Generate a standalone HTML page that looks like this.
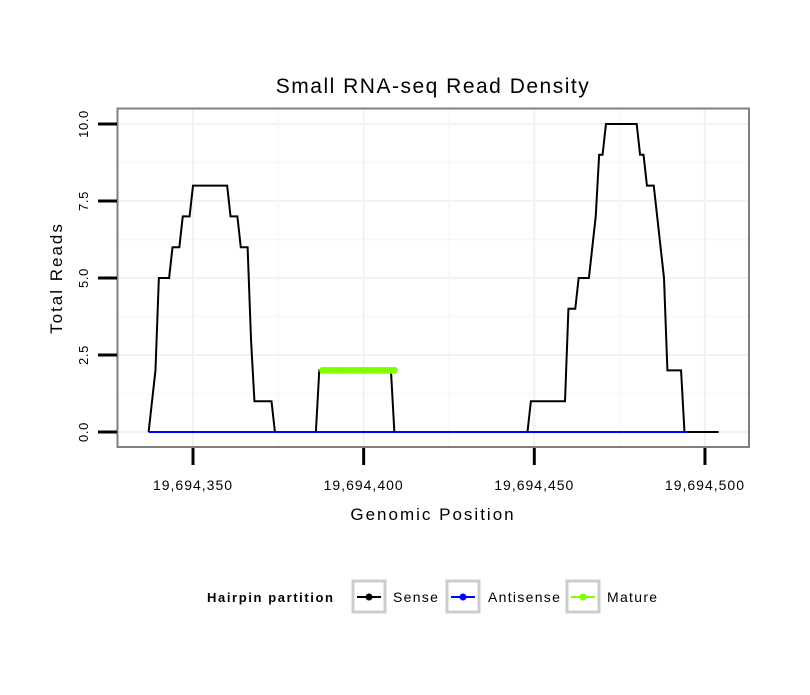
<!DOCTYPE html>
<html><head><meta charset="utf-8"><style>
body{margin:0;background:#fff;}
svg text{font-family:"Liberation Sans",Arial,sans-serif;}
</style></head><body>
<svg id="chart" width="810" height="690" xmlns="http://www.w3.org/2000/svg">
<rect width="810" height="690" fill="#fff"/>
<text x="433" y="93" font-size="21" letter-spacing="1.5" text-anchor="middle">Small RNA-seq Read Density</text>
<g id="grid"></g>
<g id="series"></g>
<rect x="117.5" y="108.5" width="631.5" height="338.5" fill="none" stroke="#7f7f7f" stroke-width="2"/>
<g id="axes"></g>
<text x="433" y="520" font-size="17" letter-spacing="2" text-anchor="middle">Genomic Position</text>
<text transform="translate(62,278) rotate(-90)" font-size="17" letter-spacing="2" text-anchor="middle">Total Reads</text>
<g>
<text x="207" y="602" font-size="13" letter-spacing="1.6" font-weight="bold">Hairpin partition</text>
<g>
<rect x="353" y="581" width="32" height="31" fill="#fff" stroke="#ccc" stroke-width="3"/>
<line x1="357" y1="597" x2="381" y2="597" stroke="#000" stroke-width="2"/><circle cx="369" cy="597" r="3.5" fill="#000"/>
<text x="393" y="602" font-size="14" letter-spacing="1.3">Sense</text></g>
<g>
<rect x="447" y="581" width="32" height="31" fill="#fff" stroke="#ccc" stroke-width="3"/>
<line x1="451" y1="597" x2="475" y2="597" stroke="#0000ff" stroke-width="2"/><circle cx="463" cy="597" r="3.5" fill="#0000ff"/>
<text x="488" y="602" font-size="14" letter-spacing="1.3">Antisense</text></g>
<g>
<rect x="567" y="581" width="32" height="31" fill="#fff" stroke="#ccc" stroke-width="3"/>
<line x1="571" y1="597" x2="595" y2="597" stroke="#7fff00" stroke-width="2"/><circle cx="583" cy="597" r="3.5" fill="#7fff00"/>
<text x="607" y="602" font-size="14" letter-spacing="1.3">Mature</text></g>
</g>
</svg>
<script>
const base = 19694000;
const startPos = 337;
const senseValues = [0,1,2,5,5,5,5,6,6,6,7,7,7,8,8,8,8,8,8,8,8,8,8,8,7,7,7,6,6,6,3,1,1,1,1,1,1,0,0,0,0,0,0,0,0,0,0,0,0,0,2,2,2,2,2,2,2,2,2,2,2,2,2,2,2,2,2,2,2,2,2,2,0,0,0,0,0,0,0,0,0,0,0,0,0,0,0,0,0,0,0,0,0,0,0,0,0,0,0,0,0,0,0,0,0,0,0,0,0,0,0,0,1,1,1,1,1,1,1,1,1,1,1,4,4,4,5,5,5,5,6,7,9,9,10,10,10,10,10,10,10,10,10,10,9,9,8,8,8,7,6,5,2,2,2,2,2,0,0,0,0,0,0,0,0,0,0,0];
const antisenseStart = 337;
const antisenseValues = new Array(159).fill(0);
const matureStart = 388;
const matureValues = [2,2,2,2,2,2,2,2,2,2,2,2,2,2,2,2,2,2,2,2,2,2];
const xTicks = [350,400,450,500];
const xTickLabels = ["19,694,350","19,694,400","19,694,450","19,694,500"];
const yTicks = [0,2.5,5,7.5,10];
const yTickLabels = ["0.0","2.5","5.0","7.5","10.0"];

const xs = p => 193 + (p - 350) * 3.413;
const ys = v => 432 - v * 30.8;
const NS = "http://www.w3.org/2000/svg";
function mk(tag, attrs, parent){const e=document.createElementNS(NS,tag);for(const k in attrs)e.setAttribute(k,attrs[k]);parent.appendChild(e);return e;}
const grid=document.getElementById('grid'), series=document.getElementById('series'), axes=document.getElementById('axes');

mk('rect',{x:118,y:109,width:631,height:338,fill:'#fff'},grid);
for(let i=0;i<yTicks.length;i++){
  const y=ys(yTicks[i]);
  const g=mk('line',{x1:118,x2:749,y1:y,y2:y,stroke:'#f2f2f2','stroke-width':2},grid);
  
  
  if(i<yTicks.length-1){const ym=ys((yTicks[i]+yTicks[i+1])/2);
    const m=mk('line',{x1:118,x2:749,y1:ym,y2:ym,stroke:'#f7f7f7','stroke-width':1.5},grid);
    
    }
  const t=mk('line',{x1:98,x2:117,y1:y,y2:y,stroke:'#000','stroke-width':3},axes);
  
  
  const lb=mk('text',{transform:`translate(${88},${y}) rotate(-90)`,'font-size':13,'letter-spacing':0.6,'text-anchor':'middle'},axes);
  lb.textContent=yTickLabels[i];
  
  
}
for(let i=0;i<xTicks.length;i++){
  const x=xs(xTicks[i]);
  const g=mk('line',{x1:x,x2:x,y1:109,y2:447,stroke:'#f2f2f2','stroke-width':2},grid);
  
  
  if(i<xTicks.length-1){const xm=xs((xTicks[i]+xTicks[i+1])/2);
    const m=mk('line',{x1:xm,x2:xm,y1:109,y2:447,stroke:'#f7f7f7','stroke-width':1.5},grid);
    
    }
  const t=mk('line',{x1:x,x2:x,y1:448,y2:465,stroke:'#000','stroke-width':3},axes);
  
  
  const lb=mk('text',{x:x,y:490,'font-size':14,'letter-spacing':1,'text-anchor':'middle'},axes);
  lb.textContent=xTickLabels[i];
  
  
}
function pts(start,vals){return vals.map((v,i)=>xs(start+i).toFixed(2)+','+ys(v).toFixed(2)).join(' ');}
const s=mk('polyline',{points:pts(startPos,senseValues),fill:'none',stroke:'#000','stroke-width':2,'stroke-linejoin':'miter'},series);


const a=mk('polyline',{points:pts(antisenseStart,antisenseValues),fill:'none',stroke:'#0000ff','stroke-width':2},series);


const m=mk('polyline',{points:pts(matureStart,matureValues),fill:'none',stroke:'#7fff00','stroke-width':2},series);


matureValues.forEach((v,i)=>{
  const c=mk('circle',{cx:xs(matureStart+i),cy:ys(v),r:3.5,fill:'#7fff00'},series);
  
  
});
</script>
</body></html>
